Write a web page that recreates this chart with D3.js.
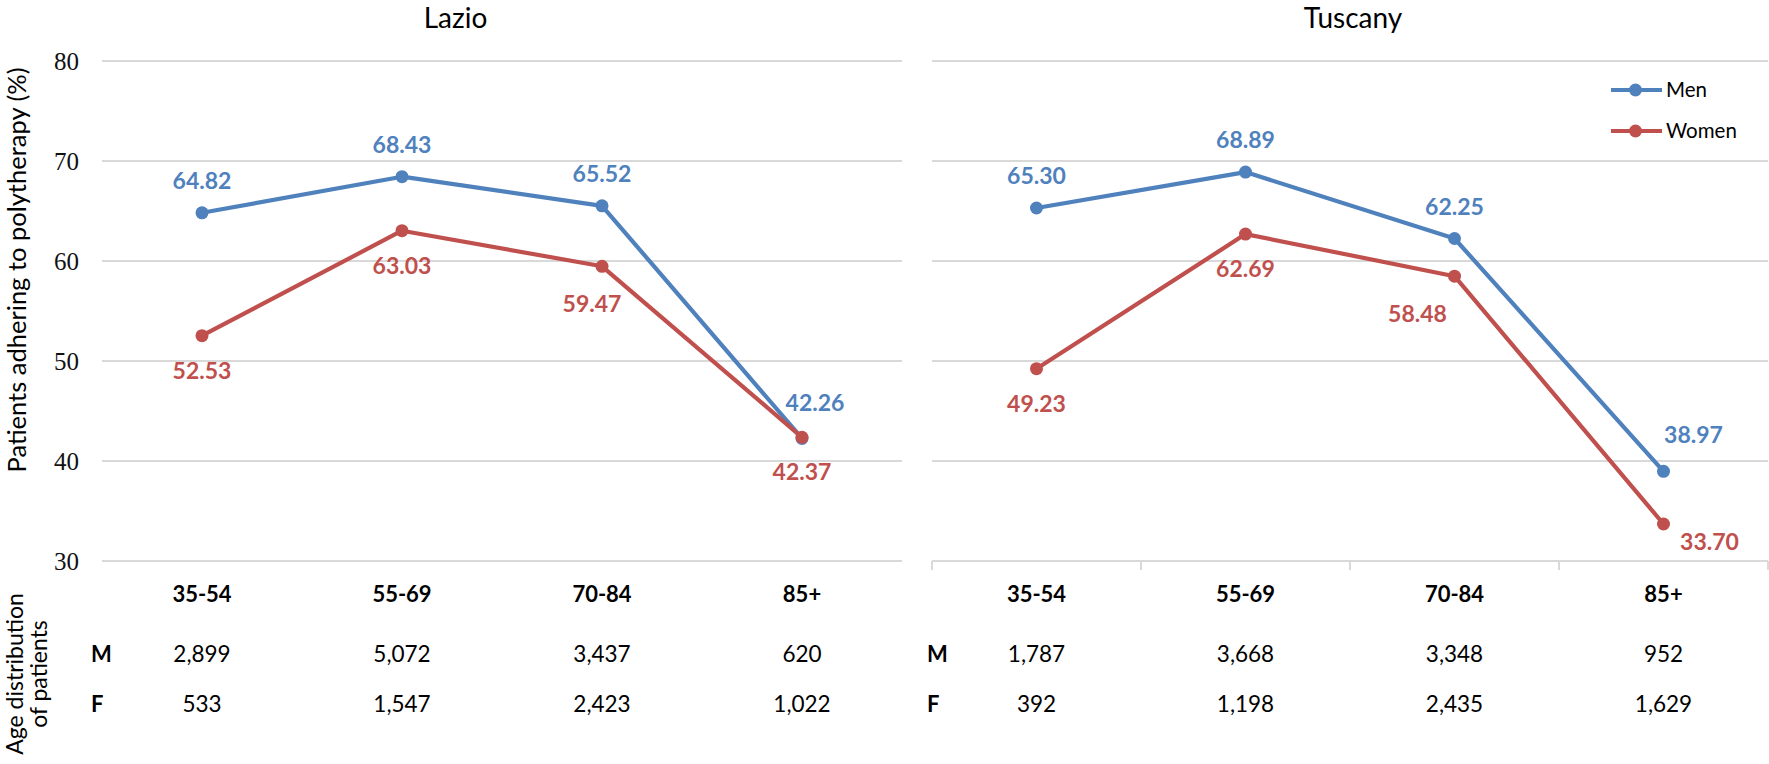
<!DOCTYPE html>
<html>
<head>
<meta charset="utf-8">
<script src="https://cdn.jsdelivr.net/npm/d3@7"></script>
<style>
  html, body { margin: 0; padding: 0; background: #fff; }
  svg { display: block; }
</style>
</head>
<body>
<svg id="chart" width="1769" height="764"></svg>
<script>
// ---------------- DATA ----------------
const categories = ["35-54", "55-69", "70-84", "85+"];
const regions = ["Lazio", "Tuscany"];
const seriesNames = ["Men", "Women"];
const lazioMen = [64.82, 68.43, 65.52, 42.26];
const lazioWomen = [52.53, 63.03, 59.47, 42.37];
const tuscanyMen = [65.30, 68.89, 62.25, 38.97];
const tuscanyWomen = [49.23, 62.69, 58.48, 33.70];
const lazioCountM = [2899, 5072, 3437, 620];
const lazioCountF = [533, 1547, 2423, 1022];
const tuscanyCountM = [1787, 3668, 3348, 952];
const tuscanyCountF = [392, 1198, 2435, 1629];
const yTicks = [30, 40, 50, 60, 70, 80];
const yTitle = "Patients adhering to polytherapy (%)";
const tableTitle = ["Age distribution", "of patients"];
const rowLabels = ["M", "F"];

// ---------------- LAYOUT / STYLE ----------------
const colors = { Men: "#4F81BD", Women: "#C0504D" };
const grid = "#D9D9D9";
const sans = "Lato, 'Open Sans', sans-serif";
const serif = "'Liberation Serif', 'Times New Roman', serif";

const svg = d3.select("#chart");
const y = d3.scaleLinear().domain([30, 80]).range([561, 61]);

const panels = [
  { name: regions[0], range: [102, 902], titleX: 455.5, rowLabelX: 91, ticks: false,
    series: { Men: lazioMen, Women: lazioWomen }, counts: [lazioCountM, lazioCountF] },
  { name: regions[1], range: [932, 1768], titleX: 1353, rowLabelX: 927, ticks: true,
    series: { Men: tuscanyMen, Women: tuscanyWomen }, counts: [tuscanyCountM, tuscanyCountF] }
];

// label placement tweaks (layout only)
const labelBase = { Men: -24, Women: 43 };
const labelTweak = {
  "Lazio-Women-2": [-10, 3],
  "Lazio-Men-3": [13, -3],
  "Tuscany-Women-2": [-37, 3],
  "Tuscany-Men-3": [30, -4],
  "Tuscany-Women-3": [46, -17]
};

const fmt = d3.format(",");

panels.forEach(p => {
  const x = d3.scaleBand().domain(categories).range(p.range);
  const g = svg.append("g");

  // gridlines
  g.append("g")
    .selectAll("line")
    .data(yTicks)
    .join("line")
    .attr("x1", p.range[0]).attr("x2", p.range[1])
    .attr("y1", d => y(d)).attr("y2", d => y(d))
    .attr("stroke", grid).attr("stroke-width", 2);

  // category boundary ticks (right panel only)
  if (p.ticks) {
    const bounds = categories.map(c => x(c)).concat([p.range[1]]);
    g.append("g").selectAll("line").data(bounds).join("line")
      .attr("x1", d => d).attr("x2", d => d)
      .attr("y1", y(30)).attr("y2", y(30) + 9)
      .attr("stroke", grid).attr("stroke-width", 2);
  }

  // title
  svg.append("text")
    .attr("x", p.titleX).attr("y", 28)
    .attr("text-anchor", "middle")
    .style("font-family", sans).style("font-size", "28px").attr("fill", "#000")
    .text(p.name);

  // lines, markers, labels
  seriesNames.forEach(s => {
    const vals = p.series[s];
    const line = d3.line().x((d, i) => x(categories[i]) + x.bandwidth() / 2).y(d => y(d));
    g.append("path").datum(vals)
      .attr("d", line).attr("fill", "none")
      .attr("stroke", colors[s]).attr("stroke-width", 4.2)
      .attr("stroke-linejoin", "round");
    g.append("g").selectAll("circle").data(vals).join("circle")
      .attr("cx", (d, i) => x(categories[i]) + x.bandwidth() / 2)
      .attr("cy", d => y(d)).attr("r", 6.5).attr("fill", colors[s]);
  });
  seriesNames.forEach(s => {
    const vals = p.series[s];
    g.append("g").selectAll("text").data(vals).join("text")
      .attr("x", (d, i) => x(categories[i]) + x.bandwidth() / 2 + ((labelTweak[`${p.name}-${s}-${i}`] || [0, 0])[0]))
      .attr("y", (d, i) => y(d) + labelBase[s] + ((labelTweak[`${p.name}-${s}-${i}`] || [0, 0])[1]))
      .attr("text-anchor", "middle")
      .style("font-family", sans).style("font-size", "23px").style("font-weight", "bold")
      .attr("fill", colors[s])
      .text(d => d.toFixed(2));
  });

  // table: category header
  g.append("g").selectAll("text").data(categories).join("text")
    .attr("x", d => x(d) + x.bandwidth() / 2).attr("y", 602)
    .attr("text-anchor", "middle")
    .style("font-family", sans).style("font-size", "22px").style("font-weight", "bold")
    .attr("fill", "#000").text(d => d);

  const rowY = [662, 712];
  p.counts.forEach((row, r) => {
    g.append("text")
      .attr("x", p.rowLabelX).attr("y", rowY[r])
      .style("font-family", sans).style("font-size", "22px").style("font-weight", "bold")
      .attr("fill", "#000").text(rowLabels[r]);
    g.append("g").selectAll("text").data(row).join("text")
      .attr("x", (d, i) => x(categories[i]) + x.bandwidth() / 2).attr("y", rowY[r])
      .attr("text-anchor", "middle")
      .style("font-family", sans).style("font-size", "22.5px")
      .attr("fill", "#000").text(d => fmt(d));
  });
});

// y-axis labels (left panel)
const yAxis = d3.axisLeft(y).tickValues(yTicks).tickSize(0).tickPadding(23).tickFormat(d3.format("d"));
const ya = svg.append("g").attr("transform", "translate(102,0)").call(yAxis);
ya.select(".domain").remove();
ya.selectAll("text")
  .style("font-family", serif).style("font-size", "25px").attr("fill", "#111");

// y-axis title
svg.append("text")
  .attr("transform", "translate(26,270) rotate(-90)")
  .attr("text-anchor", "middle")
  .style("font-family", sans).style("font-size", "25.5px").attr("fill", "#000")
  .text(yTitle);

// table title (two rotated lines)
svg.append("g").selectAll("text").data(tableTitle).join("text")
  .attr("transform", (d, i) => `translate(${23 + i * 24},674) rotate(-90)`)
  .attr("text-anchor", "middle")
  .style("font-family", sans).style("font-size", "23px").attr("fill", "#000")
  .text(d => d);

// legend
const legend = svg.append("g").selectAll("g").data(seriesNames).join("g")
  .attr("transform", (d, i) => `translate(1611,${90 + i * 41})`);
legend.append("line").attr("x1", 0).attr("x2", 51).attr("y1", 0).attr("y2", 0)
  .attr("stroke", d => colors[d]).attr("stroke-width", 4.2);
legend.append("circle").attr("cx", 24.5).attr("cy", 0).attr("r", 6.5).attr("fill", d => colors[d]);
legend.append("text").attr("x", 55).attr("y", 7)
  .style("font-family", sans).style("font-size", "20.5px").attr("fill", "#000")
  .text(d => d);
</script>
</body>
</html>
